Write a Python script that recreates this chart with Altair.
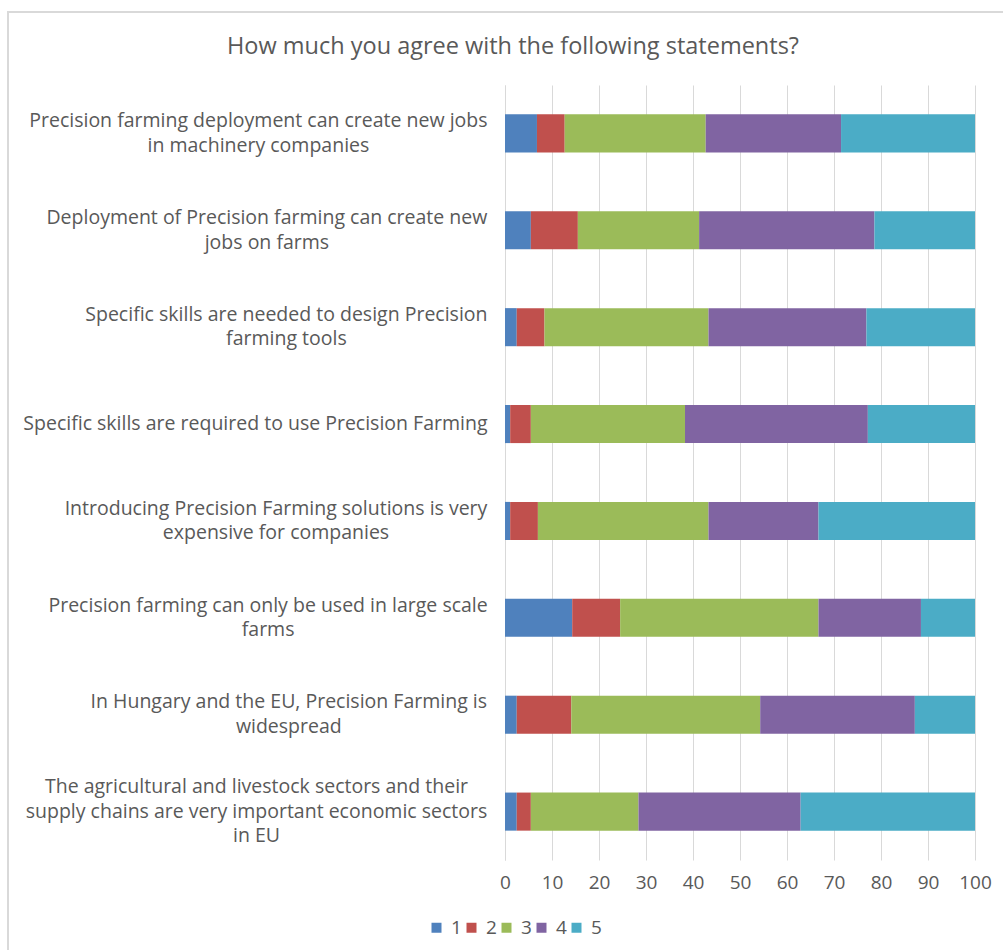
import altair as alt
import pandas as pd

statements = [
    "Precision farming deployment can create new jobs|in machinery companies",
    "Deployment of Precision farming can create new|jobs on farms",
    "Specific skills are needed to design Precision|farming tools",
    "Specific skills are required to use Precision Farming",
    "Introducing Precision Farming solutions is very|expensive for companies",
    "Precision farming can only be used in large scale|farms",
    "In Hungary and the EU, Precision Farming is|widespread",
    "The agricultural and livestock sectors and their|supply chains are very important economic sectors|in EU",
]
ratings = ["1", "2", "3", "4", "5"]
s1 = [6.8, 5.5, 2.5, 1.1, 1.1, 14.3, 2.5, 2.5]
s2 = [5.9, 10.0, 5.9, 4.4, 5.9, 10.2, 11.6, 3.0]
s3 = [30.0, 25.8, 34.9, 32.8, 36.3, 42.2, 40.2, 22.9]
s4 = [28.8, 37.3, 33.6, 38.9, 23.4, 21.8, 32.9, 34.5]
s5 = [28.5, 21.4, 23.1, 22.8, 33.3, 11.5, 12.8, 37.1]
colors = ["#4F81BD", "#C0504D", "#9BBB59", "#8064A2", "#4BACC6"]
x_ticks = [0, 10, 20, 30, 40, 50, 60, 70, 80, 90, 100]

# widest line of each label block, in em of the label font (layout helper
# so that multi-line labels are centred on themselves, right edge aligned)
label_width_em = [23.5, 22.625, 20.625, 23.81, 21.69, 22.5, 20.375, 23.69]

rows = []
for series_name, vals in zip(ratings, [s1, s2, s3, s4, s5]):
    for st, v in zip(statements, vals):
        rows.append({"statement": st, "rating": series_name, "value": v,
                     "ord": ratings.index(series_name)})
df = pd.DataFrame(rows)

FONT = "Open Sans"
TXT = "#595959"
LABEL_SIZE = 19.5
LINE_H = 24.5
GAP = 18

pad_expr = str(GAP + 20 * LABEL_SIZE / 2)
for st, w in zip(reversed(statements), reversed(label_width_em)):
    esc = st.replace("'", "\\'")
    pad_expr = f"datum.value == '{esc}' ? {GAP + w * LABEL_SIZE / 2:.1f} : ({pad_expr})"
offset_expr = f"-(length(split(datum.value, '|')) - 1) * {LINE_H / 2}"

bars = alt.Chart(df).mark_bar().encode(
    x=alt.X("value:Q", stack="zero",
            scale=alt.Scale(domain=[0, 100], nice=False),
            axis=alt.Axis(values=x_ticks, title=None, domain=False, ticks=False,
                          grid=True, gridColor="#D9D9D9", gridWidth=1,
                          labelFont=FONT, labelFontSize=19, labelColor=TXT,
                          labelFlush=False, labelPadding=13)),
    y=alt.Y("statement:N", sort=statements,
            scale=alt.Scale(paddingInner=0.607, paddingOuter=0.303),
            axis=alt.Axis(title=None, ticks=False, domain=True, domainColor="#D9D9D9",
                          labelExpr="split(datum.label, '|')",
                          labelAlign="center", labelBaseline="middle",
                          labelPadding=alt.ExprRef(pad_expr),
                          labelOffset=alt.ExprRef(offset_expr), labelLimit=0,
                          labelFont=FONT, labelFontSize=LABEL_SIZE, labelColor=TXT,
                          labelLineHeight=LINE_H)),
    color=alt.Color("rating:N", sort=ratings,
                    scale=alt.Scale(domain=ratings, range=colors),
                    legend=alt.Legend(title=None, orient="none", direction="horizontal",
                                      legendX=-78, legendY=833,
                                      symbolType="square", symbolSize=100,
                                      symbolStrokeWidth=0,
                                      labelFont=FONT, labelFontSize=19, labelColor=TXT,
                                      labelOffset=5, columnPadding=0)),
    order=alt.Order("ord:Q"),
)

# light grey frame around the whole chart area (chart furniture)
frame = alt.Chart(pd.DataFrame({"f": [0]})).mark_rect(
    fill=None, stroke="#D9D9D9", strokeWidth=2
).encode(
    x=alt.value(-497), x2=alt.value(510),
    y=alt.value(-73), y2=alt.value(880),
)

chart = alt.layer(frame, bars).properties(
    width=470, height=775,
    title=alt.Title("How much you agree with the following statements?",
                    font=FONT, fontSize=23.5, fontWeight="normal", color=TXT,
                    anchor="middle", dx=-227, offset=0, dy=47),
).configure(
    autosize=alt.AutoSizeParams(type="none"),
    padding={"left": 505, "top": 85, "right": 28, "bottom": 90},
).configure_view(stroke=None)

chart.save("out.html", embed_options={"renderer": "svg", "actions": False})
